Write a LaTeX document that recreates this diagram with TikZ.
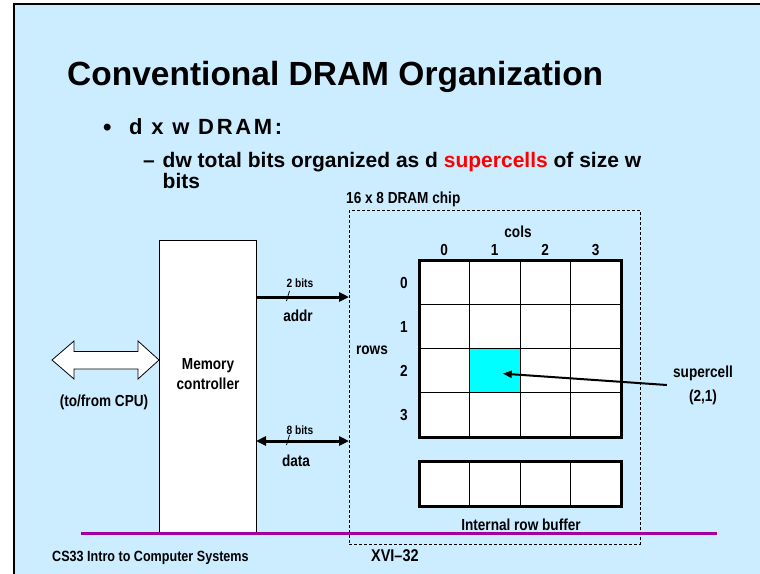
\documentclass[tikz,border=0pt]{standalone}
\usepackage{fontspec}
\setmainfont{Liberation Sans}
\newfontfamily\narrowfont[FakeStretch=0.85]{Liberation Sans}
\usetikzlibrary{arrows.meta,calc}

\definecolor{slidebg}{RGB}{204,236,255}
\definecolor{rulepurple}{RGB}{160,0,160}
\definecolor{cellcyan}{RGB}{0,255,255}

\begin{document}
\begin{tikzpicture}[x=1pt,y=-1pt,
  lbl/.style={inner sep=0pt, font=\narrowfont\bfseries\fontsize{16}{19}\selectfont},
  small/.style={inner sep=0pt, font=\narrowfont\bfseries\fontsize{12}{14}\selectfont},
  body/.style={anchor=base west, inner sep=0pt, font=\bfseries\fontsize{21}{25}\selectfont},
  cellbox/.style={draw, line width=0.8pt, fill=white, minimum width=50.5pt,
    minimum height=44.25pt, inner sep=0pt, outer sep=0pt, anchor=north west},
  bufcell/.style={cellbox, minimum height=45pt},
  bus/.style={line width=3pt},
  tick/.style={line width=0.8pt}
]
\useasboundingbox (0,0) rectangle (760,573);
\clip (0,0) rectangle (760,573);

% slide frame and background
\draw[line width=2pt, fill=slidebg] (14,4) rectangle (780,600);

% title and bullet text
\node[anchor=base west, inner sep=0pt, font=\bfseries\fontsize{33.5}{40}\selectfont]
  (title) at (67,85) {Conventional DRAM Organization};
\node[body, font=\bfseries\fontsize{24}{28}\selectfont] (dot) at (103,135) {•};
\node[body, font=\bfseries\fontsize{22}{26}\selectfont\addfontfeature{LetterSpace=12}]
  (dxw) at (129,134) {d x w DRAM:};
\node[body] (dash) at (143,167) {–};
\node[body] (sub1) at (162.5,167)
  {dw total bits organized as d \textcolor{red}{supercells} of size w};
\node[body] (sub2) at (162.5,188) {bits};

% DRAM chip outline
\node[lbl, anchor=base west] (chiplbl) at (346,203) {16 x 8 DRAM chip};
\node[draw, dash pattern=on 3pt off 2pt, line width=0.8pt, minimum width=291pt,
  minimum height=333.6pt, inner sep=0pt, outer sep=0pt, anchor=north west]
  (chip) at (349,210.7) {};

% memory controller
\node[draw, fill=white, line width=1pt, minimum width=97pt, minimum height=292pt,
  inner sep=0pt, outer sep=0pt, anchor=north west] (ctrl) at (159,240) {};
\node[lbl, anchor=base] (ctrl1) at (208,369) {Memory};
\node[lbl, anchor=base] (ctrl2) at (208,389) {controller};

% CPU side block arrow
\draw[fill=white, line width=0.8pt]
  (52,360) -- (74,341) -- (74,351.5) -- (138,351.5) -- (138,341) -- (159,360)
  -- (138,379) -- (138,369) -- (74,369) -- (74,379) -- cycle;
\node[lbl, anchor=base] (cpu) at (104,406) {(to/from CPU)};

% grid of supercells
\node[lbl, anchor=base] (cols) at (518,237) {cols};
\foreach \c in {0,...,3} {
  \node[lbl, anchor=base] (colnum\c) at ({444.25+50.5*\c},255) {\c};
  \node[lbl, anchor=base] (rownum\c) at (404,{288+44.25*\c}) {\c};
}
\node[lbl, anchor=base] (rows) at (372,354) {rows};
\foreach \r in {0,...,3}
  \foreach \c in {0,...,3}
    \node[cellbox] (c-\r-\c) at ({419+50.5*\c},{260+44.25*\r}) {};
\node[cellbox, fill=cellcyan] (c-2-1) at (469.5,348.5) {};
\node[draw, line width=3pt, minimum width=202pt, minimum height=177pt,
  inner sep=0pt, outer sep=0pt, anchor=north west] (grid) at (419,260) {};

% internal row buffer
\foreach \c in {0,...,3}
  \node[bufcell] (b-\c) at ({419+50.5*\c},461) {};
\node[draw, line width=3pt, minimum width=202pt, minimum height=45pt,
  inner sep=0pt, outer sep=0pt, anchor=north west] (rowbuf) at (419,461) {};
\node[lbl, anchor=base] (buflbl) at (521,530) {Internal row buffer};

% address and data buses
\coordinate (addrY) at (0,297);
\coordinate (dataY) at (0,441);
\draw[bus, -{Triangle[length=10pt,width=9pt]}] (ctrl.east |- addrY) -- (chip.west |- addrY);
\draw[bus, {Triangle[length=10pt,width=9pt]}-{Triangle[length=10pt,width=9pt]}]
  (ctrl.east |- dataY) -- (chip.west |- dataY);
\coordinate (addrtick) at (288,296);
\coordinate (datatick) at (288,440);
\draw[tick] ($(addrtick)+(-1.5,5)$) -- ($(addrtick)+(1.5,-5)$);
\draw[tick] ($(datatick)+(-1.5,5)$) -- ($(datatick)+(1.5,-5)$);
\node[small, anchor=base] (addrw) at (300,287) {2 bits};
\node[lbl, anchor=base] (addr) at (298,321) {addr};
\node[small, anchor=base] (dataw) at (300,434) {8 bits};
\node[lbl, anchor=base] (data) at (296,466) {data};

% supercell callout
\node[lbl, align=center, font=\narrowfont\bfseries\fontsize{16}{24}\selectfont]
  (sc) at (703,385) {supercell\\(2,1)};
\draw[line width=2pt, -{Triangle[length=9pt,width=7pt]}]
  ([xshift=-6pt]sc.west) -- ([xshift=8pt,yshift=-3pt]c-2-1.center);

% footer rule and text
\draw[line width=3pt, rulepurple] (81,533.5) -- (717,533.5);
\node[lbl, anchor=base west, font=\narrowfont\bfseries\fontsize{14.8}{17}\selectfont]
  (course) at (52,561) {CS33 Intro to Computer Systems};
\node[lbl, anchor=base west, font=\narrowfont\bfseries\fontsize{17}{20}\selectfont]
  (page) at (371,561) {XVI–32};
\end{tikzpicture}
\end{document}
